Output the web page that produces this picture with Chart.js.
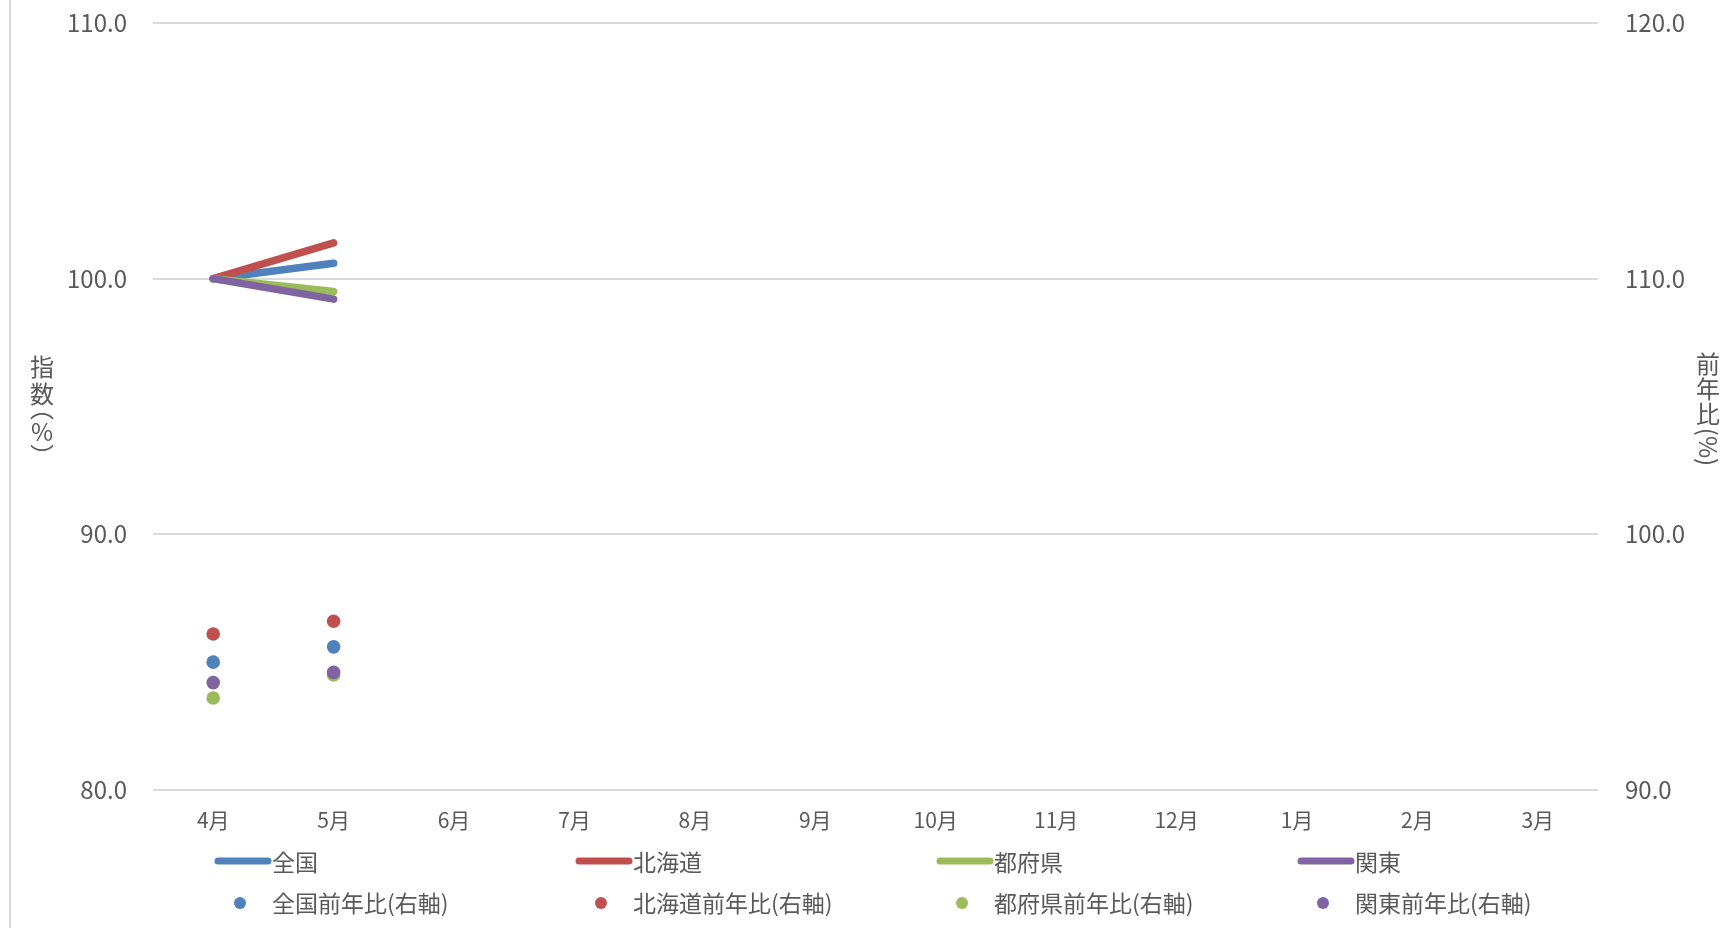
<!DOCTYPE html>
<html lang="ja">
<head>
<meta charset="utf-8">
<title>指数・前年比</title>
<script src="https://cdn.jsdelivr.net/npm/chart.js@4"></script>
<style>
  html, body { margin: 0; padding: 0; background: #fff; }
  #wrap { position: relative; width: 1725px; height: 928px; }
</style>
</head>
<body>
<div id="wrap"><canvas id="chart"></canvas></div>
<script>
// 月（4月始まり）
const months = ["4月", "5月", "6月", "7月", "8月", "9月", "10月", "11月", "12月", "1月", "2月", "3月"];

// 指数（左軸）
const zenkoku = [100.0, 100.6, null, null, null, null, null, null, null, null, null, null];
const hokkaido = [100.0, 101.4, null, null, null, null, null, null, null, null, null, null];
const tofuken = [100.0, 99.5, null, null, null, null, null, null, null, null, null, null];
const kanto = [100.0, 99.2, null, null, null, null, null, null, null, null, null, null];

// 前年比（右軸）
const zenkokuYoy = [95.0, 95.6, null, null, null, null, null, null, null, null, null, null];
const hokkaidoYoy = [96.1, 96.6, null, null, null, null, null, null, null, null, null, null];
const tofukenYoy = [93.6, 94.5, null, null, null, null, null, null, null, null, null, null];
const kantoYoy = [94.2, 94.6, null, null, null, null, null, null, null, null, null, null];

const lineNames = ["全国", "北海道", "都府県", "関東"];
const dotNames = ["全国前年比(右軸)", "北海道前年比(右軸)", "都府県前年比(右軸)", "関東前年比(右軸)"];
const colors = ["#4F81BD", "#C0504D", "#9BBB59", "#8064A2"];

const FONT = "'Noto Sans CJK JP', 'Noto Sans', sans-serif";
const TEXT = "#595959";
const GRID = "#d9d9d9";

const lineData = [zenkoku, hokkaido, tofuken, kanto];
const dotData = [zenkokuYoy, hokkaidoYoy, tofukenYoy, kantoYoy];

const datasets = [];
lineData.forEach((d, i) => {
  datasets.push({
    label: lineNames[i],
    data: d,
    yAxisID: "y",
    borderColor: colors[i],
    backgroundColor: colors[i],
    borderWidth: 7.5,
    borderCapStyle: "round",
    borderJoinStyle: "round",
    pointRadius: 0,
    spanGaps: false,
    order: 20 - i,
  });
});
dotData.forEach((d, i) => {
  datasets.push({
    label: dotNames[i],
    data: d,
    yAxisID: "y2",
    showLine: false,
    borderColor: colors[i],
    backgroundColor: colors[i],
    pointRadius: 6.8,
    pointBorderWidth: 0,
    order: 10 - i,
  });
});

// 縦書きの軸タイトル・左端の枠線
const framePlugin = {
  id: "frame",
  beforeDraw(chart) {
    const c = chart.ctx;
    c.save();
    c.strokeStyle = GRID;
    c.lineWidth = 2;
    c.beginPath();
    c.moveTo(10, 0);
    c.lineTo(10, chart.height);
    c.stroke();
    c.restore();
  },
  afterDraw(chart) {
    const c = chart.ctx;
    c.save();
    c.fillStyle = TEXT;
    c.font = "24px " + FONT;
    c.textAlign = "center";
    c.textBaseline = "middle";
    const left = [["指", 367], ["数", 394], ["︵", 408], ["%", 432], ["︶", 456]];
    left.forEach(([ch, y]) => c.fillText(ch, 42, y));
    const right = ["前", "年", "比"];
    right.forEach((ch, i) => c.fillText(ch, 1708, 364 + i * 25));
    c.translate(1708, 447);
    c.rotate(Math.PI / 2);
    c.fillText("(%)", 0, 0);
    c.restore();
  },
};

// 凡例（2段×4列）
const legendPlugin = {
  id: "gridLegend",
  afterDraw(chart) {
    const c = chart.ctx;
    const x0 = chart.chartArea.left + 62;
    const colW = 361;
    c.save();
    c.font = "23px " + FONT;
    c.textBaseline = "middle";
    c.textAlign = "left";
    lineNames.forEach((name, i) => {
      const x = x0 + i * colW;
      c.strokeStyle = colors[i];
      c.lineWidth = 7;
      c.lineCap = "round";
      c.beginPath();
      c.moveTo(x + 3, 861);
      c.lineTo(x + 53, 861);
      c.stroke();
      c.fillStyle = TEXT;
      c.fillText(name, x + 57, 862);
    });
    dotNames.forEach((name, i) => {
      const x = x0 + i * colW;
      c.fillStyle = colors[i];
      c.beginPath();
      c.arc(x + 25, 903, 6, 0, Math.PI * 2);
      c.fill();
      c.fillStyle = TEXT;
      c.fillText(name, x + 57, 903);
    });
    c.restore();
  },
};

// 縦軸：幅を固定し、目盛り余白が上端を押し下げないようにする
function fixY(width) {
  return (s) => {
    s.width = width;
    s.paddingTop = 12;
    s.paddingBottom = 12;
  };
}

new Chart(document.getElementById("chart"), {
  type: "line",
  data: { labels: months, datasets },
  plugins: [framePlugin, legendPlugin],
  options: {
    responsive: true,
    maintainAspectRatio: false,
    animation: false,
    layout: { padding: { top: 23, left: 0, right: 0, bottom: 0 } },
    plugins: { legend: { display: false }, tooltip: { enabled: false } },
    scales: {
      x: {
        offset: true,
        grid: { display: false },
        border: { display: false },
        ticks: { color: TEXT, font: { family: FONT, size: 21 }, padding: 9, maxRotation: 0 },
        afterFit(s) { s.height = 138; },
      },
      y: {
        position: "left",
        min: 80,
        max: 110,
        grid: { color: GRID, lineWidth: 2, drawTicks: false },
        border: { display: false },
        ticks: {
          stepSize: 10,
          color: TEXT,
          font: { family: FONT, size: 24 },
          padding: 26,
          callback: (v) => v.toFixed(1),
        },
        afterFit: fixY(153),
      },
      y2: {
        position: "right",
        min: 90,
        max: 120,
        grid: { display: false, drawTicks: false },
        border: { display: false },
        ticks: {
          stepSize: 10,
          color: TEXT,
          font: { family: FONT, size: 24 },
          padding: 27,
          callback: (v) => v.toFixed(1),
        },
        afterFit: fixY(127),
      },
    },
  },
});
</script>
</body>
</html>
